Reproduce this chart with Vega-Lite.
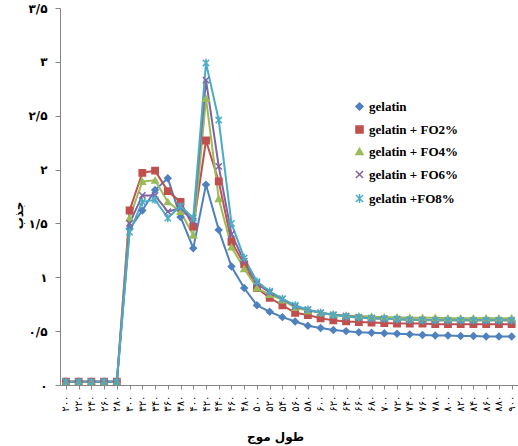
{
  "$schema": "https://vega.github.io/schema/vega-lite/v6.json",
  "autosize": {"type": "none"},
  "width": 458,
  "height": 377,
  "padding": {"left": 60, "top": 8, "right": 0, "bottom": 61},
  "background": "white",
  "config": {
    "view": {"stroke": null},
    "axis": {"grid": false},
    "legend": {
      "title": null,
      "orient": "none",
      "legendX": 293,
      "legendY": 92,
      "labelFont": "Liberation Serif",
      "labelFontSize": 13,
      "labelFontWeight": "bold",
      "labelColor": "#000000",
      "rowPadding": 8,
      "symbolSize": 50,
      "symbolStrokeWidth": 1.5,
      "labelOffset": 3
    }
  },
  "data": {"values": [
    {"s":"gelatin","x":200,"y":0.03},{"s":"gelatin","x":220,"y":0.03},{"s":"gelatin","x":240,"y":0.03},{"s":"gelatin","x":260,"y":0.03},{"s":"gelatin","x":280,"y":0.03},
    {"s":"gelatin","x":300,"y":1.45},{"s":"gelatin","x":320,"y":1.62},{"s":"gelatin","x":340,"y":1.81},{"s":"gelatin","x":360,"y":1.92},{"s":"gelatin","x":380,"y":1.56},
    {"s":"gelatin","x":400,"y":1.27},{"s":"gelatin","x":420,"y":1.86},{"s":"gelatin","x":440,"y":1.44},{"s":"gelatin","x":460,"y":1.10},{"s":"gelatin","x":480,"y":0.90},
    {"s":"gelatin","x":500,"y":0.74},{"s":"gelatin","x":520,"y":0.68},{"s":"gelatin","x":540,"y":0.63},{"s":"gelatin","x":560,"y":0.59},{"s":"gelatin","x":580,"y":0.55},
    {"s":"gelatin","x":600,"y":0.53},{"s":"gelatin","x":620,"y":0.51},{"s":"gelatin","x":640,"y":0.50},{"s":"gelatin","x":660,"y":0.49},{"s":"gelatin","x":680,"y":0.485},
    {"s":"gelatin","x":700,"y":0.48},{"s":"gelatin","x":720,"y":0.475},{"s":"gelatin","x":740,"y":0.47},{"s":"gelatin","x":760,"y":0.465},{"s":"gelatin","x":780,"y":0.46},
    {"s":"gelatin","x":800,"y":0.46},{"s":"gelatin","x":820,"y":0.455},{"s":"gelatin","x":840,"y":0.455},{"s":"gelatin","x":860,"y":0.45},{"s":"gelatin","x":880,"y":0.45},{"s":"gelatin","x":900,"y":0.45},

    {"s":"gelatin + FO2%","x":200,"y":0.03},{"s":"gelatin + FO2%","x":220,"y":0.03},{"s":"gelatin + FO2%","x":240,"y":0.03},{"s":"gelatin + FO2%","x":260,"y":0.03},{"s":"gelatin + FO2%","x":280,"y":0.03},
    {"s":"gelatin + FO2%","x":300,"y":1.62},{"s":"gelatin + FO2%","x":320,"y":1.97},{"s":"gelatin + FO2%","x":340,"y":1.99},{"s":"gelatin + FO2%","x":360,"y":1.80},{"s":"gelatin + FO2%","x":380,"y":1.70},
    {"s":"gelatin + FO2%","x":400,"y":1.47},{"s":"gelatin + FO2%","x":420,"y":2.27},{"s":"gelatin + FO2%","x":440,"y":1.89},{"s":"gelatin + FO2%","x":460,"y":1.33},{"s":"gelatin + FO2%","x":480,"y":1.12},
    {"s":"gelatin + FO2%","x":500,"y":0.90},{"s":"gelatin + FO2%","x":520,"y":0.81},{"s":"gelatin + FO2%","x":540,"y":0.74},{"s":"gelatin + FO2%","x":560,"y":0.67},{"s":"gelatin + FO2%","x":580,"y":0.65},
    {"s":"gelatin + FO2%","x":600,"y":0.62},{"s":"gelatin + FO2%","x":620,"y":0.60},{"s":"gelatin + FO2%","x":640,"y":0.59},{"s":"gelatin + FO2%","x":660,"y":0.585},{"s":"gelatin + FO2%","x":680,"y":0.58},
    {"s":"gelatin + FO2%","x":700,"y":0.575},{"s":"gelatin + FO2%","x":720,"y":0.57},{"s":"gelatin + FO2%","x":740,"y":0.57},{"s":"gelatin + FO2%","x":760,"y":0.57},{"s":"gelatin + FO2%","x":780,"y":0.565},
    {"s":"gelatin + FO2%","x":800,"y":0.565},{"s":"gelatin + FO2%","x":820,"y":0.565},{"s":"gelatin + FO2%","x":840,"y":0.565},{"s":"gelatin + FO2%","x":860,"y":0.565},{"s":"gelatin + FO2%","x":880,"y":0.565},{"s":"gelatin + FO2%","x":900,"y":0.565},

    {"s":"gelatin + FO4%","x":200,"y":0.03},{"s":"gelatin + FO4%","x":220,"y":0.03},{"s":"gelatin + FO4%","x":240,"y":0.03},{"s":"gelatin + FO4%","x":260,"y":0.03},{"s":"gelatin + FO4%","x":280,"y":0.03},
    {"s":"gelatin + FO4%","x":300,"y":1.55},{"s":"gelatin + FO4%","x":320,"y":1.89},{"s":"gelatin + FO4%","x":340,"y":1.90},{"s":"gelatin + FO4%","x":360,"y":1.70},{"s":"gelatin + FO4%","x":380,"y":1.61},
    {"s":"gelatin + FO4%","x":400,"y":1.39},{"s":"gelatin + FO4%","x":420,"y":2.66},{"s":"gelatin + FO4%","x":440,"y":1.73},{"s":"gelatin + FO4%","x":460,"y":1.28},{"s":"gelatin + FO4%","x":480,"y":1.08},
    {"s":"gelatin + FO4%","x":500,"y":0.90},{"s":"gelatin + FO4%","x":520,"y":0.84},{"s":"gelatin + FO4%","x":540,"y":0.79},{"s":"gelatin + FO4%","x":560,"y":0.72},{"s":"gelatin + FO4%","x":580,"y":0.69},
    {"s":"gelatin + FO4%","x":600,"y":0.67},{"s":"gelatin + FO4%","x":620,"y":0.655},{"s":"gelatin + FO4%","x":640,"y":0.645},{"s":"gelatin + FO4%","x":660,"y":0.64},{"s":"gelatin + FO4%","x":680,"y":0.635},
    {"s":"gelatin + FO4%","x":700,"y":0.63},{"s":"gelatin + FO4%","x":720,"y":0.63},{"s":"gelatin + FO4%","x":740,"y":0.625},{"s":"gelatin + FO4%","x":760,"y":0.625},{"s":"gelatin + FO4%","x":780,"y":0.625},
    {"s":"gelatin + FO4%","x":800,"y":0.62},{"s":"gelatin + FO4%","x":820,"y":0.62},{"s":"gelatin + FO4%","x":840,"y":0.62},{"s":"gelatin + FO4%","x":860,"y":0.62},{"s":"gelatin + FO4%","x":880,"y":0.62},{"s":"gelatin + FO4%","x":900,"y":0.62},

    {"s":"gelatin + FO6%","x":200,"y":0.03},{"s":"gelatin + FO6%","x":220,"y":0.03},{"s":"gelatin + FO6%","x":240,"y":0.03},{"s":"gelatin + FO6%","x":260,"y":0.03},{"s":"gelatin + FO6%","x":280,"y":0.03},
    {"s":"gelatin + FO6%","x":300,"y":1.50},{"s":"gelatin + FO6%","x":320,"y":1.76},{"s":"gelatin + FO6%","x":340,"y":1.76},{"s":"gelatin + FO6%","x":360,"y":1.61},{"s":"gelatin + FO6%","x":380,"y":1.64},
    {"s":"gelatin + FO6%","x":400,"y":1.52},{"s":"gelatin + FO6%","x":420,"y":2.83},{"s":"gelatin + FO6%","x":440,"y":2.03},{"s":"gelatin + FO6%","x":460,"y":1.40},{"s":"gelatin + FO6%","x":480,"y":1.15},
    {"s":"gelatin + FO6%","x":500,"y":0.94},{"s":"gelatin + FO6%","x":520,"y":0.86},{"s":"gelatin + FO6%","x":540,"y":0.80},{"s":"gelatin + FO6%","x":560,"y":0.73},{"s":"gelatin + FO6%","x":580,"y":0.70},
    {"s":"gelatin + FO6%","x":600,"y":0.67},{"s":"gelatin + FO6%","x":620,"y":0.65},{"s":"gelatin + FO6%","x":640,"y":0.64},{"s":"gelatin + FO6%","x":660,"y":0.63},{"s":"gelatin + FO6%","x":680,"y":0.62},
    {"s":"gelatin + FO6%","x":700,"y":0.615},{"s":"gelatin + FO6%","x":720,"y":0.61},{"s":"gelatin + FO6%","x":740,"y":0.605},{"s":"gelatin + FO6%","x":760,"y":0.605},{"s":"gelatin + FO6%","x":780,"y":0.60},
    {"s":"gelatin + FO6%","x":800,"y":0.60},{"s":"gelatin + FO6%","x":820,"y":0.60},{"s":"gelatin + FO6%","x":840,"y":0.60},{"s":"gelatin + FO6%","x":860,"y":0.60},{"s":"gelatin + FO6%","x":880,"y":0.60},{"s":"gelatin + FO6%","x":900,"y":0.60},

    {"s":"gelatin  +FO8%","x":200,"y":0.03},{"s":"gelatin  +FO8%","x":220,"y":0.03},{"s":"gelatin  +FO8%","x":240,"y":0.03},{"s":"gelatin  +FO8%","x":260,"y":0.03},{"s":"gelatin  +FO8%","x":280,"y":0.03},
    {"s":"gelatin  +FO8%","x":300,"y":1.42},{"s":"gelatin  +FO8%","x":320,"y":1.70},{"s":"gelatin  +FO8%","x":340,"y":1.72},{"s":"gelatin  +FO8%","x":360,"y":1.55},{"s":"gelatin  +FO8%","x":380,"y":1.66},
    {"s":"gelatin  +FO8%","x":400,"y":1.55},{"s":"gelatin  +FO8%","x":420,"y":2.99},{"s":"gelatin  +FO8%","x":440,"y":2.46},{"s":"gelatin  +FO8%","x":460,"y":1.50},{"s":"gelatin  +FO8%","x":480,"y":1.18},
    {"s":"gelatin  +FO8%","x":500,"y":0.96},{"s":"gelatin  +FO8%","x":520,"y":0.87},{"s":"gelatin  +FO8%","x":540,"y":0.80},{"s":"gelatin  +FO8%","x":560,"y":0.74},{"s":"gelatin  +FO8%","x":580,"y":0.70},
    {"s":"gelatin  +FO8%","x":600,"y":0.67},{"s":"gelatin  +FO8%","x":620,"y":0.65},{"s":"gelatin  +FO8%","x":640,"y":0.635},{"s":"gelatin  +FO8%","x":660,"y":0.625},{"s":"gelatin  +FO8%","x":680,"y":0.62},
    {"s":"gelatin  +FO8%","x":700,"y":0.615},{"s":"gelatin  +FO8%","x":720,"y":0.61},{"s":"gelatin  +FO8%","x":740,"y":0.605},{"s":"gelatin  +FO8%","x":760,"y":0.60},{"s":"gelatin  +FO8%","x":780,"y":0.60},
    {"s":"gelatin  +FO8%","x":800,"y":0.60},{"s":"gelatin  +FO8%","x":820,"y":0.60},{"s":"gelatin  +FO8%","x":840,"y":0.60},{"s":"gelatin  +FO8%","x":860,"y":0.60},{"s":"gelatin  +FO8%","x":880,"y":0.60},{"s":"gelatin  +FO8%","x":900,"y":0.60}
  ]},
  "encoding": {
    "x": {
      "field": "x", "type": "quantitative",
      "scale": {"domain": [190.7, 910], "nice": false, "zero": false},
      "axis": {
        "values": [200,220,240,260,280,300,320,340,360,380,400,420,440,460,480,500,520,540,560,580,600,620,640,660,680,700,720,740,760,780,800,820,840,860,880,900],
        "labelExpr": "replace(replace(replace(replace(replace(replace(replace(replace(replace(replace(datum.value+'',regexp('0','g'),'۰'),regexp('1','g'),'۱'),regexp('2','g'),'۲'),regexp('3','g'),'۳'),regexp('4','g'),'۴'),regexp('5','g'),'۵'),regexp('6','g'),'۶'),regexp('7','g'),'۷'),regexp('8','g'),'۸'),regexp('9','g'),'۹')",
        "labelAngle": -90,
        "labelFontSize": 10,
        "labelFont": "DejaVu Sans",
        "labelColor": "#000000",
        "labelPadding": 6,
        "labelOverlap": false,
        "labelFlush": false,
        "tickSize": 4,
        "tickColor": "#868686",
        "domainColor": "#868686",
        "title": "طول موج",
        "titleFont": "DejaVu Sans",
        "titleFontSize": 12,
        "titleFontWeight": "bold",
        "titleColor": "#000000",
        "titleX": 215,
        "titleY": 51,
        "titleBaseline": "middle",
        "titleAlign": "center"
      }
    },
    "y": {
      "field": "y", "type": "quantitative",
      "scale": {"domain": [0, 3.5], "nice": false},
      "axis": {
        "values": [0, 0.5, 1, 1.5, 2, 2.5, 3, 3.5],
        "labelExpr": "replace(replace(replace(replace(replace(replace(replace(replace(replace(replace(replace(datum.value+'',regexp('[.]','g'),'/'),regexp('0','g'),'۰'),regexp('1','g'),'۱'),regexp('2','g'),'۲'),regexp('3','g'),'۳'),regexp('4','g'),'۴'),regexp('5','g'),'۵'),regexp('6','g'),'۶'),regexp('7','g'),'۷'),regexp('8','g'),'۸'),regexp('9','g'),'۹')",
        "labelFontSize": 12,
        "labelFontWeight": "bold",
        "labelFont": "DejaVu Sans",
        "labelColor": "#000000",
        "labelPadding": 8,
        "tickSize": 5,
        "tickColor": "#868686",
        "domainColor": "#868686",
        "title": "جذب",
        "titleFont": "DejaVu Sans",
        "titleFontSize": 12,
        "titleFontWeight": "bold",
        "titleColor": "#000000",
        "titleX": -42,
        "titleY": 207,
        "titleAlign": "center",
        "titleBaseline": "middle"
      }
    }
  },
  "layer": [
    {
      "mark": {"type": "line", "strokeWidth": 2},
      "encoding": {
        "stroke": {
          "field": "s", "type": "nominal",
          "scale": {"domain": ["gelatin","gelatin + FO2%","gelatin + FO4%","gelatin + FO6%","gelatin  +FO8%"], "range": ["#4F81BD","#C0504D","#9BBB59","#8064A2","#4BACC6"]}
        }
      }
    },
    {
      "mark": {"type": "point", "filled": true, "opacity": 1, "strokeWidth": 1.5, "size": 40},
      "encoding": {
        "fill": {
          "field": "s", "type": "nominal",
          "scale": {"domain": ["gelatin","gelatin + FO2%","gelatin + FO4%","gelatin + FO6%","gelatin  +FO8%"], "range": ["#4F81BD","#C0504D","#9BBB59","#8064A2","#4BACC6"]}
        },
        "stroke": {"field": "s", "type": "nominal"},
        "shape": {
          "field": "s", "type": "nominal",
          "scale": {"domain": ["gelatin","gelatin + FO2%","gelatin + FO4%","gelatin + FO6%","gelatin  +FO8%"], "range": ["diamond","square","triangle-up","M-1,-1L1,1M-1,1L1,-1","M-1,-1L1,1M-1,1L1,-1M0,-1.3L0,1.3"]}
        }
      }
    }
  ]
}
